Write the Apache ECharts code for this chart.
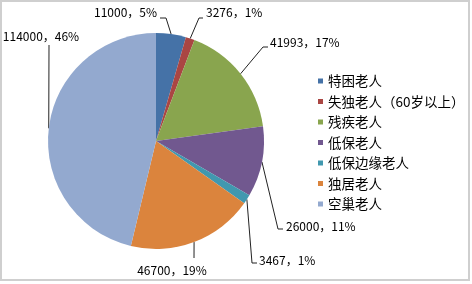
<!DOCTYPE html>
<html>
<head>
<meta charset="utf-8">
<script src="https://cdn.jsdelivr.net/npm/echarts@6/dist/echarts.min.js"></script>
<style>
  html, body { margin: 0; padding: 0; background: #fff; }
  #frame {
    position: absolute; left: 0; top: 0;
    width: 466px; height: 277px;
    border: 2px solid #cfcfcf;
  }
  #chart { position: absolute; left: 0; top: 0; width: 472px; height: 284px; }
</style>
</head>
<body>
<div id="frame"></div>
<div id="chart"></div>
<script>
// 数据
var categories = ['特困老人', '失独老人（60岁以上）', '残疾老人', '低保老人', '低保边缘老人', '独居老人', '空巢老人']
var values = [11000, 3276, 41993, 26000, 3467, 46700, 114000]
var percentLabels = ['5%', '1%', '17%', '11%', '1%', '19%', '46%']
var colors = ['#4572A7', '#AA4643', '#89A54E', '#71588F', '#4198AF', '#DB843D', '#93A9CF']

// 标签摆放位置（仿Excel手动调整过的标签）
var labelSpots = [
  { x: 157, y: 12, align: 'right', line: [[166, 18], [160, 18]] },
  { x: 206, y: 12, align: 'left', line: [[199, 18], [203, 18]] },
  { x: 270, y: 42, align: 'left', line: [[263, 47], [268, 47]] },
  { x: 286, y: 226, align: 'left', line: [[278, 229], [283, 229]] },
  { x: 259, y: 260, align: 'left', line: [[252, 263], [257, 263]] },
  { x: 172, y: 270, align: 'center', line: [[194, 258]] },
  { x: 41, y: 36, align: 'center', line: [[49, 45]] }
]

var myChart = echarts.init(document.getElementById('chart'))

var seriesData = categories.map(function (name, i) {
  return {
    name: name,
    value: values[i],
    itemStyle: { color: colors[i] }
  }
})

var option = {
  animation: false,
  legend: {
    orient: 'vertical',
    left: 318,
    top: 74,
    padding: 0,
    icon: 'rect',
    itemWidth: 5,
    itemHeight: 5,
    itemGap: 6.5,
    data: categories,
    textStyle: {
      fontFamily: 'Noto Sans CJK SC',
      fontSize: 13.5,
      lineHeight: 14,
      color: '#000'
    }
  },
  series: [
    {
      type: 'pie',
      center: [156, 141],
      radius: 108,
      startAngle: 90,
      clockwise: true,
      avoidLabelOverlap: false,
      data: seriesData,
      label: {
        show: true,
        position: 'outside',
        fontFamily: 'Noto Sans CJK SC',
        fontSize: 12,
        color: '#000',
        formatter: function (p) {
          return p.value + '，' + percentLabels[p.dataIndex]
        }
      },
      labelLine: {
        show: true,
        length: 10,
        length2: 10,
        lineStyle: { color: '#222', width: 1 }
      },
      labelLayout: function (params) {
        var spot = labelSpots[params.dataIndex]
        var start = params.labelLinePoints ? params.labelLinePoints[0] : null
        var pts = start ? [start].concat(spot.line) : spot.line
        return {
          x: spot.x,
          y: spot.y,
          align: spot.align,
          verticalAlign: 'middle',
          labelLinePoints: pts
        }
      }
    }
  ]
}

myChart.setOption(option)
</script>
</body>
</html>
